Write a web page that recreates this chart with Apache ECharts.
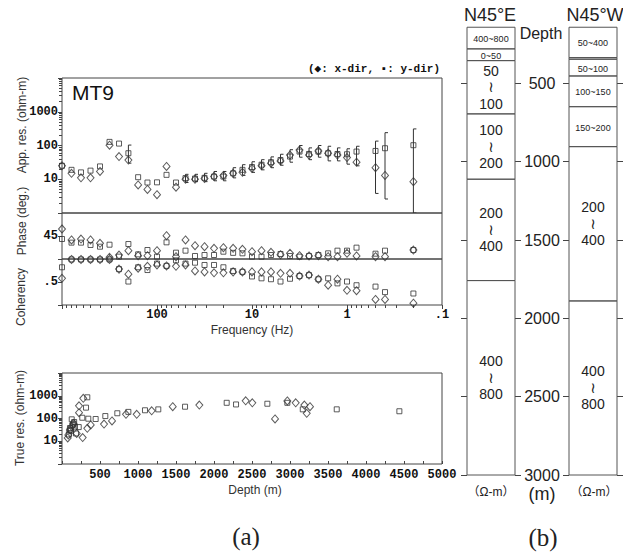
<!DOCTYPE html>
<html><head><meta charset="utf-8">
<script src="https://cdn.jsdelivr.net/npm/echarts@6/dist/echarts.min.js"></script>
<style>html,body{margin:0;padding:0;background:#fff}#c{width:623px;height:555px}</style>
</head><body><div id="c"></div>
<script>
// ---- Panel (a): MT9 sounding (frequency in Hz) ----
const freq = [1000, 794, 631, 501, 398, 316, 251, 200, 158, 126, 100, 79.4, 63.1, 50.1, 39.8, 31.6, 25.1, 20.0, 15.8, 12.6, 10.0, 7.94, 6.31, 5.01, 3.98, 3.16, 2.51, 2.00, 1.58, 1.26, 1.00, 0.794, 0.501, 0.398, 0.200];
const appResX = [25, 15, 11, 11, 17, 102, 47, 37, 6.8, 5, 3.5, 24, 5.8, 10, 10, 10.5, 12, 13, 15, 16, 21, 25, 30, 35, 52, 73, 52, 69, 59, 52, 44, 32, 22, 13, 8.5];
const appResY = [25, 19, 16, 18, 24, 128, 114, 59, 11.5, 8, 8.1, 13.5, 8, 10.8, 10.5, 11, 12, 12, 15, 19, 23, 27, 32, 37, 47, 66, 56, 66, 59, 56, 55, 66, 69, 83, 102];
const errLow  = [null, null, null, null, null, null, null, 30, null, null, null, null, null, 8, 8.5, 8.5, 9, 9, 11, 13, 16, 19, 22, 26, 32, 45, 38, 45, 35, 35, 28, 25, 3.8, 2.6, 1];
const errHigh = [null, null, null, null, null, null, null, 103, null, null, null, null, null, 14, 14, 15, 17, 17, 22, 27, 33, 38, 46, 55, 75, 100, 85, 100, 95, 85, 80, 95, 135, 240, 310];
const phaseX = [58.7, 37.2, 39.1, 37.2, 30.7, 3.3, 7.8, 16.3, 6.5, 6.5, 16.3, 45.7, 4.6, 37.2, 26.1, 24.1, 20.9, 22.2, 21, 18.9, 14.3, 16.3, 13.0, 8.5, 11.1, 6.5, 5.9, 6.5, 4.6, 4.6, 11.1, 5.9, 4.6, 4.6, 17.6];
const phaseY = [39.1, 32.0, 32.0, 27.4, 24.1, 28.0, 4.6, 29.3, 9.1, 17.6, 4.6, 32.6, 12.4, 16.3, 5.9, 7.8, 7.8, 14.3, 12.0, 11.1, 4.6, 4.6, 7.8, 9.8, 5.9, 4.6, 5.9, 7.8, 11.1, 16.3, 16.3, 22.2, 10.4, 16.3, 17.6];
const cohX = [0.58, 0.99, 0.99, 0.99, 0.99, 0.99, 0.78, 0.67, 0.80, 0.84, 0.87, 0.85, 0.84, 0.87, 0.74, 0.72, 0.70, 0.70, 0.72, 0.72, 0.72, 0.72, 0.72, 0.69, 0.69, 0.63, 0.65, 0.56, 0.43, 0.56, 0.32, 0.31, 0.12, 0.12, 0.04];
const cohY = [0.82, 0.99, 0.99, 0.99, 0.99, 0.99, 0.78, 0.51, 0.82, 0.76, 0.90, 0.85, 0.97, 0.90, 0.92, 0.87, 0.87, 0.82, 0.74, 0.72, 0.62, 0.58, 0.56, 0.51, 0.57, 0.63, 0.65, 0.56, 0.58, 0.47, 0.51, 0.43, 0.40, 0.28, 0.25];
// true resistivity vs depth
const trueDepthX = [75, 83, 105, 128, 149, 193, 224, 224, 272, 280, 333, 378, 553, 658, 842, 983, 1180, 1457, 1807, 2417, 2504, 2803, 2965, 3075, 3189, 3220, 3263];
const trueResX   = [14, 19, 31, 44, 61, 22, 180, 360, 14.5, 770, 37, 52, 57, 78, 152, 152, 218, 330, 390, 600, 490, 96, 590, 490, 390, 170, 330];
const trueDepthY = [90, 100, 105, 118, 128, 141, 150, 160, 171, 184, 220, 267, 316, 333, 346, 443, 570, 728, 873, 1092, 1267, 1619, 2167, 2290, 2702, 2965, 3168, 3615, 4439];
const trueResY   = [20, 30, 38, 29, 92, 52, 60, 70, 44, 22, 42, 108, 300, 855, 98, 95, 128, 170, 195, 230, 252, 330, 490, 415, 445, 490, 253, 253, 208];
// axis tick label sets
const depthTicksB = [500, 1000, 1500, 2000, 2500, 3000];
// ---- Panel (b): resistivity layer columns (depth in m) ----
const layerTopsE = [142, 280, 355, 695, 1112, 1759];
const layerLabelsE = ['400~800', '0~50', '50\n≀\n100', '100\n≀\n200', '200\n≀\n400', '400\n≀\n800'];
const layerTopsW = [142, 336, 346, 453, 649, 904, 1889];
const layerLabelsW = ['50~400', '', '50~100', '100~150', '150~200', '200\n≀\n400', '400\n≀\n800'];
const columnBottom = 3000;

const MONO = '"Liberation Mono","DejaVu Sans Mono",monospace';
const SANS = '"Liberation Sans","DejaVu Sans",Arial,sans-serif';
const INK = '#333';

function layerData(tops, labels){
  return tops.map((t, i) => ({ value: [t, i + 1 < tops.length ? tops[i + 1] : columnBottom], name: labels[i] }));
}
function layerRender(labels){
  return function(params, api){
    const p0 = api.coord([0, api.value(0)]);
    const p1 = api.coord([1, api.value(1)]);
    const cx = (p0[0] + p1[0]) / 2, cy = (p0[1] + p1[1]) / 2;
    const lines = labels[params.dataIndex].split('\n');
    const children = [
      { type: 'rect', shape: { x: p0[0], y: p0[1], width: p1[0] - p0[0], height: p1[1] - p0[1] },
        style: { fill: 'none', stroke: '#555', lineWidth: 1 } }
    ];
    if (lines.length === 1) {
      children.push({ type: 'text', style: { text: lines[0], x: cx, y: cy + 1, align: 'center', verticalAlign: 'middle',
        fontFamily: SANS, fontSize: 9, fill: '#222' } });
    } else {
      lines.forEach((s, k) => {
        children.push({ type: 'text', style: { text: s, x: cx, y: cy + (k - 1) * 16.5, align: 'center', verticalAlign: 'middle',
          fontFamily: k === 1 ? '"DejaVu Sans",sans-serif' : SANS, fontSize: k === 1 ? 15 : 14, fill: '#222' } });
      });
    }
    return { type: 'group', children };
  };
}
function errRender(params, api){
  const f = api.value(0);
  const top = api.coord([f, api.value(2)]);
  const bot = api.coord([f, api.value(1)]);
  const x = top[0];
  const st = { stroke: INK, lineWidth: 1 };
  return { type: 'group', children: [
    { type: 'line', shape: { x1: x, y1: top[1], x2: x, y2: bot[1] }, style: st },
    { type: 'line', shape: { x1: x, y1: top[1], x2: x + 3, y2: top[1] }, style: st },
    { type: 'line', shape: { x1: x, y1: bot[1], x2: x + 3, y2: bot[1] }, style: st }
  ]};
}

const zip = (a, b) => a.map((v, i) => [v, b[i]]);
const errData = freq.map((f, i) => [f, errLow[i], errHigh[i]]).filter(r => r[1] !== null);

const openMark = { color: 'rgba(0,0,0,0)', borderColor: INK, borderWidth: 1 };
const diamond = { type: 'scatter', symbol: 'diamond', symbolSize: [7, 8], itemStyle: openMark, silent: true };
const square = { type: 'scatter', symbol: 'rect', symbolSize: 5, itemStyle: openMark, silent: true };
const monoLabel = { fontFamily: MONO, fontWeight: 'bold', fontSize: 12, color: '#111' };
const hiddenAxis = { axisLine: { show: false }, axisTick: { show: false }, axisLabel: { show: false }, splitLine: { show: false } };
const gridBox = { show: true, borderColor: '#444', borderWidth: 1, backgroundColor: 'transparent' };

const freqAxis = (gi, shown) => Object.assign({
  type: 'log', gridIndex: gi, min: 0.1, max: 1000, logBase: 10, inverse: true,
  splitLine: { show: false }, axisLine: { show: false }
}, shown ? {
  axisTick: { show: true, length: 4, lineStyle: { color: '#444' } },
  minorTick: { show: true, splitNumber: 9, length: 3, lineStyle: { color: '#444' } },
  axisLabel: Object.assign({ margin: 4, interval: 0, formatter: v => v >= 999 ? '' : (v < 0.5 ? '.1' : String(Math.round(v))) }, monoLabel)
} : { axisTick: { show: false }, axisLabel: { show: false } });

const resFmt = v => { const r = Math.round(v); return (r === 10 || r === 100 || r === 1000) ? String(r) : ''; };

const option = {
  animation: false,
  grid: [
    Object.assign({ left: 62, top: 78, width: 380, height: 135 }, gridBox),
    Object.assign({ left: 62, top: 213, width: 380, height: 46 }, gridBox),
    Object.assign({ left: 62, top: 259, width: 380, height: 46 }, gridBox),
    Object.assign({ left: 62, top: 373, width: 380, height: 91 }, gridBox),
    { left: 467, top: 5, width: 48, height: 470 },
    { left: 569, top: 5, width: 48, height: 470 }
  ],
  xAxis: [
    freqAxis(0, false), freqAxis(1, false), freqAxis(2, true),
    { type: 'value', gridIndex: 3, min: 0, max: 5000, interval: 250, splitLine: { show: false }, axisLine: { show: false },
      axisTick: { inside: true, length: 3, lineStyle: { color: '#444' } },
      axisLabel: Object.assign({ margin: 5, interval: 0, formatter: v => (v > 0 && v % 500 === 0) ? String(v) : '' }, monoLabel) },
    Object.assign({ type: 'value', gridIndex: 4, min: 0, max: 1 }, hiddenAxis),
    Object.assign({ type: 'value', gridIndex: 5, min: 0, max: 1 }, hiddenAxis)
  ],
  yAxis: [
    { type: 'log', gridIndex: 0, min: 1, max: 10000, logBase: 10, splitLine: { show: false }, axisLine: { show: false },
      axisTick: { length: 4, lineStyle: { color: '#444' } },
      minorTick: { show: true, splitNumber: 9, length: 3, lineStyle: { color: '#444' } },
      axisLabel: Object.assign({ margin: 4, formatter: resFmt }, monoLabel) },
    { type: 'value', gridIndex: 1, min: 0, max: 90, interval: 45, splitLine: { show: false }, axisLine: { show: false },
      axisTick: { length: 4, lineStyle: { color: '#444' } },
      axisLabel: Object.assign({ margin: 4, formatter: v => v === 45 ? '45' : '' }, monoLabel) },
    { type: 'value', gridIndex: 2, min: 0, max: 1, interval: 0.5, splitLine: { show: false }, axisLine: { show: false },
      axisTick: { length: 4, lineStyle: { color: '#444' } },
      axisLabel: Object.assign({ margin: 4, formatter: v => v === 0.5 ? '.5' : '' }, monoLabel) },
    { type: 'log', gridIndex: 3, min: 1, max: 10000, logBase: 10, splitLine: { show: false }, axisLine: { show: false },
      axisTick: { length: 4, lineStyle: { color: '#444' } },
      minorTick: { show: true, splitNumber: 9, length: 3, lineStyle: { color: '#444' } },
      axisLabel: Object.assign({ margin: 4, formatter: resFmt }, monoLabel) },
    { type: 'value', gridIndex: 4, position: 'left', inverse: true, min: 0, max: 3000, splitLine: { show: false }, axisLine: { show: false },
      axisTick: { show: true, length: 6, customValues: depthTicksB, lineStyle: { color: '#444' } }, axisLabel: { show: false } },
    { type: 'value', gridIndex: 4, position: 'right', inverse: true, min: 0, max: 3000, splitLine: { show: false }, axisLine: { show: false },
      axisTick: { show: true, length: 6, customValues: depthTicksB, lineStyle: { color: '#444' } },
      axisLabel: { show: true, customValues: depthTicksB, formatter: v => String(v), align: 'center', margin: 27, fontFamily: SANS, fontSize: 16, color: '#222' } },
    { type: 'value', gridIndex: 5, position: 'left', inverse: true, min: 0, max: 3000, splitLine: { show: false }, axisLine: { show: false },
      axisTick: { show: true, length: 6, customValues: depthTicksB, lineStyle: { color: '#444' } }, axisLabel: { show: false } },
    { type: 'value', gridIndex: 5, position: 'right', inverse: true, min: 0, max: 3000, splitLine: { show: false }, axisLine: { show: false },
      axisTick: { show: true, length: 6, customValues: depthTicksB, lineStyle: { color: '#444' } }, axisLabel: { show: false } }
  ],
  series: [
    { type: 'custom', xAxisIndex: 0, yAxisIndex: 0, clip: true, renderItem: errRender, data: errData, encode: { x: 0, y: [1, 2] }, silent: true },
    Object.assign({ name: 'x-dir', xAxisIndex: 0, yAxisIndex: 0, data: zip(freq, appResX) }, diamond),
    Object.assign({ name: 'y-dir', xAxisIndex: 0, yAxisIndex: 0, data: zip(freq, appResY) }, square),
    Object.assign({ name: 'x-dir', xAxisIndex: 1, yAxisIndex: 1, data: zip(freq, phaseX) }, diamond),
    Object.assign({ name: 'y-dir', xAxisIndex: 1, yAxisIndex: 1, data: zip(freq, phaseY) }, square),
    Object.assign({ name: 'x-dir', xAxisIndex: 2, yAxisIndex: 2, data: zip(freq, cohX) }, diamond),
    Object.assign({ name: 'y-dir', xAxisIndex: 2, yAxisIndex: 2, data: zip(freq, cohY) }, square),
    Object.assign({ name: 'x-dir', xAxisIndex: 3, yAxisIndex: 3, data: zip(trueDepthX, trueResX) }, diamond),
    Object.assign({ name: 'y-dir', xAxisIndex: 3, yAxisIndex: 3, data: zip(trueDepthY, trueResY) }, square),
    { type: 'custom', xAxisIndex: 4, yAxisIndex: 4, renderItem: layerRender(layerLabelsE), data: layerData(layerTopsE, layerLabelsE), encode: { y: [0, 1] }, silent: true },
    { type: 'custom', xAxisIndex: 5, yAxisIndex: 6, renderItem: layerRender(layerLabelsW), data: layerData(layerTopsW, layerLabelsW), encode: { y: [0, 1] }, silent: true }
  ],
  graphic: [
    { type: 'text', x: 72, y: 92, style: { text: 'MT9', font: '21px ' + SANS, fill: '#111', verticalAlign: 'middle' } },
    { type: 'text', x: 440, y: 69, style: { text: '(◆: x-dir, ▪: y-dir)', font: 'bold 11px ' + MONO, fill: '#111', align: 'right', verticalAlign: 'middle' } },
    { type: 'text', x: 22, y: 125, rotation: Math.PI / 2, style: { text: 'App. res. (ohm-m)', font: '12px ' + SANS, fill: '#333', align: 'center', verticalAlign: 'middle' } },
    { type: 'text', x: 22, y: 221, rotation: Math.PI / 2, style: { text: 'Phase (deg.)', font: '12px ' + SANS, fill: '#333', align: 'center', verticalAlign: 'middle' } },
    { type: 'text', x: 21, y: 297, rotation: Math.PI / 2, style: { text: 'Coherency', font: '12px ' + SANS, fill: '#333', align: 'center', verticalAlign: 'middle' } },
    { type: 'text', x: 20, y: 418, rotation: Math.PI / 2, style: { text: 'True res. (ohm-m)', font: '12px ' + SANS, fill: '#333', align: 'center', verticalAlign: 'middle' } },
    { type: 'text', x: 252, y: 330, style: { text: 'Frequency (Hz)', font: '12px ' + SANS, fill: '#333', align: 'center', verticalAlign: 'middle' } },
    { type: 'text', x: 255, y: 490, style: { text: 'Depth (m)', font: '12px ' + SANS, fill: '#333', align: 'center', verticalAlign: 'middle' } },
    { type: 'text', x: 246, y: 536, style: { text: '(a)', font: '25px "Liberation Serif","DejaVu Serif",serif', fill: '#222', align: 'center', verticalAlign: 'middle' } },
    { type: 'text', x: 543, y: 537, style: { text: '(b)', font: '25px "Liberation Serif","DejaVu Serif",serif', fill: '#222', align: 'center', verticalAlign: 'middle' } },
    { type: 'text', x: 490, y: 15, style: { text: 'N45°E', font: '18px ' + SANS, fill: '#222', align: 'center', verticalAlign: 'middle' } },
    { type: 'text', x: 595, y: 15, style: { text: 'N45°W', font: '18px ' + SANS, fill: '#222', align: 'center', verticalAlign: 'middle' } },
    { type: 'text', x: 541, y: 33, style: { text: 'Depth', font: '16px ' + SANS, fill: '#222', align: 'center', verticalAlign: 'middle' } },
    { type: 'text', x: 491, y: 492, style: { text: '（Ω-m）', font: '12px ' + SANS + ',"Noto Sans CJK SC"', fill: '#222', align: 'center', verticalAlign: 'middle' } },
    { type: 'text', x: 542, y: 494, style: { text: '(m)', font: '18px ' + SANS, fill: '#222', align: 'center', verticalAlign: 'middle' } },
    { type: 'text', x: 594, y: 492, style: { text: '（Ω-m）', font: '12px ' + SANS + ',"Noto Sans CJK SC"', fill: '#222', align: 'center', verticalAlign: 'middle' } }
  ]
};
const chart = echarts.init(document.getElementById('c'), null, { renderer: 'svg' });
chart.setOption(option);
</script></body></html>
